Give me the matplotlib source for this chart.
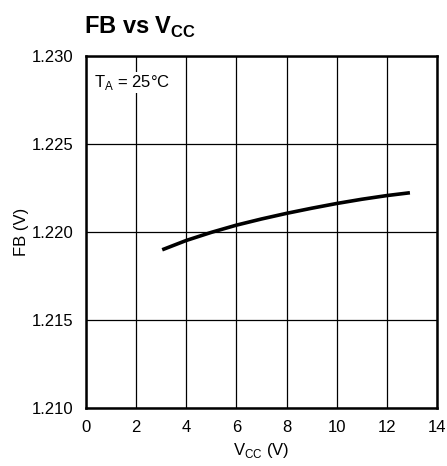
import matplotlib
matplotlib.use("Agg")
import matplotlib.pyplot as plt
from matplotlib import font_manager

names = {f.name for f in font_manager.fontManager.ttflist}
fam = "Liberation Sans Narrow" if "Liberation Sans Narrow" in names else "Liberation Sans"
plt.rcParams['font.family'] = [fam, 'DejaVu Sans']

vcc = [3.04, 4.0, 5.0, 6.0, 7.0, 8.0, 9.0, 10.0, 11.0, 12.0, 12.92]
fb = [1.21899, 1.21952, 1.21998, 1.22039, 1.22074, 1.22106, 1.22135, 1.22162, 1.22186, 1.22207, 1.22223]
xticks = [0, 2, 4, 6, 8, 10, 12, 14]
yticks = [1.210, 1.215, 1.220, 1.225, 1.230]

fig = plt.figure(figsize=(4.47, 4.66), dpi=100)
ax = fig.add_axes([86/447, 1 - 408/466, (437-86)/447, (408-56)/466])
ax.plot(vcc, fb, color='black', lw=2.6, solid_capstyle='butt', solid_joinstyle='round')
ax.set_xlim(0, 14)
ax.set_ylim(1.210, 1.230)
ax.set_xticks(xticks)
ax.set_yticks(yticks)
ax.set_xticklabels([str(t) for t in xticks])
ax.set_yticklabels([f"{t:.3f}" for t in yticks])
ax.tick_params(length=0, labelsize=12, pad=9)
ax.grid(True, color='black', lw=0.9)
ax.set_axisbelow(True)
for s in ax.spines.values():
    s.set_linewidth(1.8)
ax.set_xlabel(r"V$_{\mathregular{CC}}$ (V)", fontsize=12, labelpad=4)
ax.set_ylabel("FB (V)", fontsize=12, labelpad=2)
ax.text(0.3, 1.2285, r"T$_{\mathregular{A}}$ = 25°C", fontsize=12, va='center', ha='left',
        bbox=dict(facecolor='white', edgecolor='none', pad=1))
fig.text(84/447, 1 - 27/466, r"FB vs V$_{\mathregular{CC}}$", fontsize=17, fontweight='bold', va='center', ha='left')
fig.savefig("out.png", dpi=100)
